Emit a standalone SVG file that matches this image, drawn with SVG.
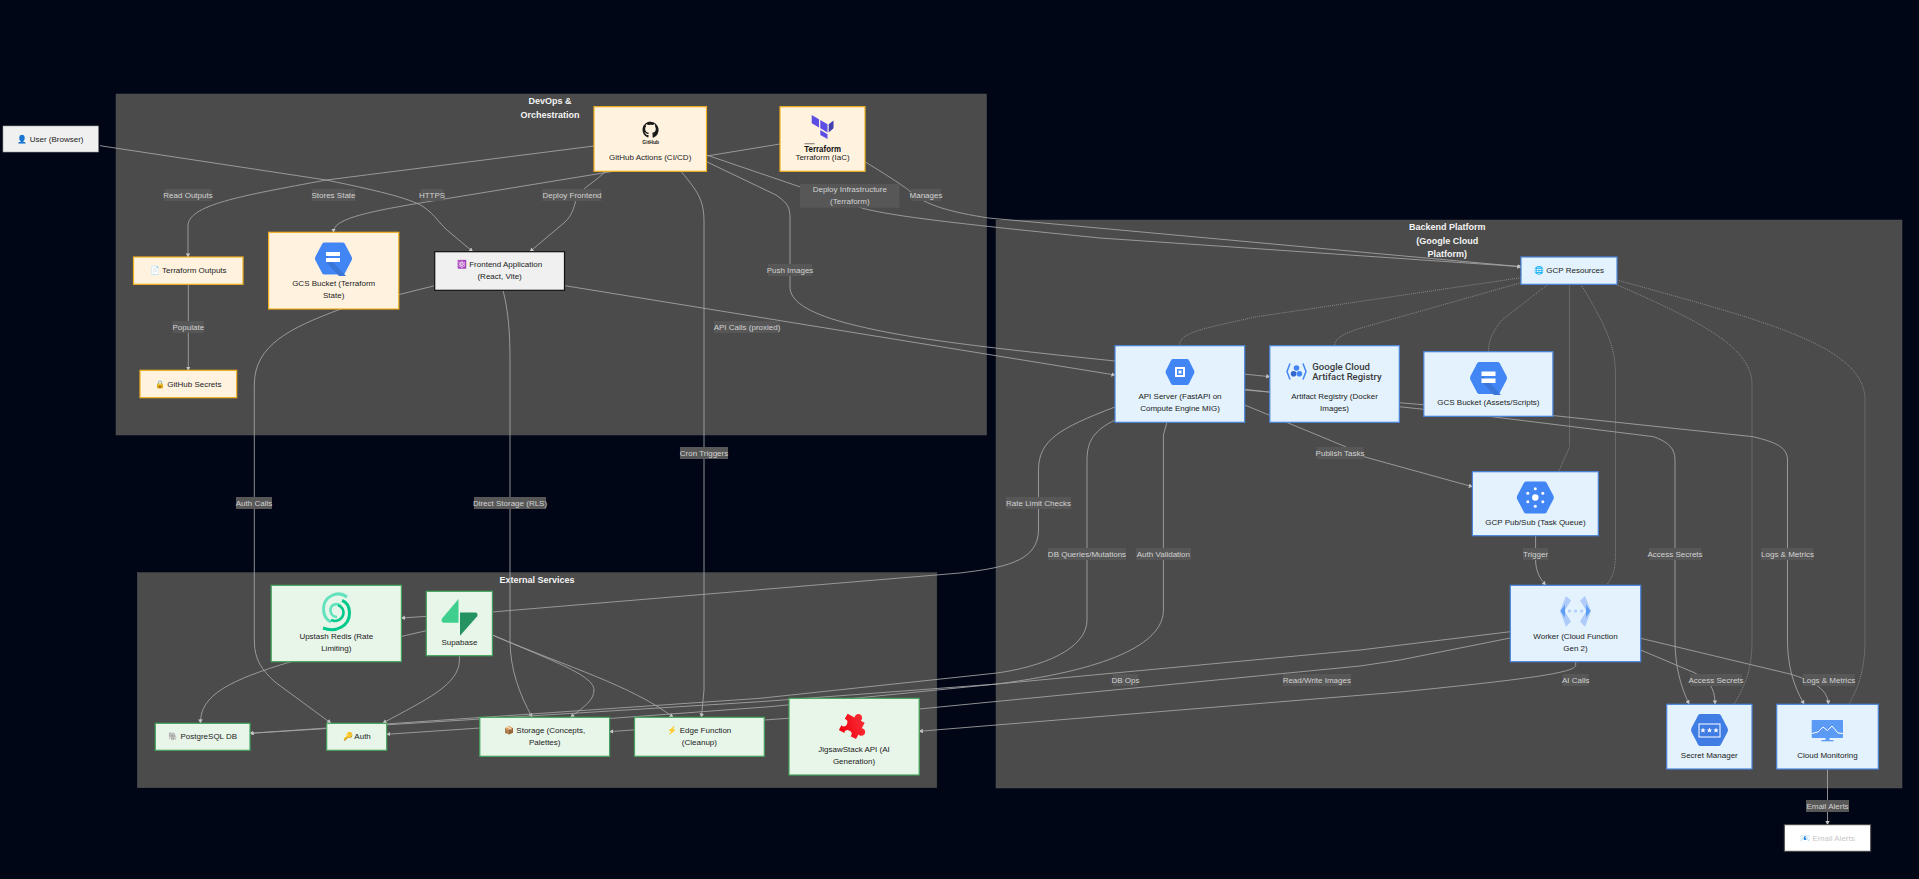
<svg xmlns="http://www.w3.org/2000/svg" width="1919" height="879" viewBox="0 0 1919 879">
<style>
text{font-family:"Liberation Sans",Arial,sans-serif;font-size:8px;text-anchor:middle;fill:#222}
.t{font-size:9px;font-weight:bold;fill:#f4f4f4}
.l{fill:#d2d2d2}
.lb{fill:#575757}
.c{fill:#4a4b4a;stroke:#505250;stroke-width:.5}
.y{fill:#fff3e0;stroke:#f2b01e;stroke-width:1.2}
.b{fill:#e3f2fd;stroke:#4a84dc;stroke-width:1.2}
.g{fill:#e8f5e9;stroke:#43a35c;stroke-width:1.2}
.e path{fill:none;stroke:#a6a6a6;stroke-width:.85}
.e path.a{marker-end:url(#ah)}
.e path.d{stroke-dasharray:1 1;stroke:#9c9c9c;stroke-width:.75}
</style>
<defs>
<marker id="ah" markerUnits="userSpaceOnUse" markerWidth="5" markerHeight="5" refX="3.600" refY="2.250" orient="auto"><path d="M0,0L4,2.250L0,4.500z" fill="#c4c4c4"/></marker>
<path id="hex" d="M-9,-16H9Q10.500,-16 11.300,-14.700L18,-2Q19,0 18,2L11.300,14.700Q10.500,16 9,16H-9Q-10.500,16 -11.300,14.700L-18,2Q-19,0 -18,-2L-11.300,-14.700Q-10.500,-16 -9,-16Z"/>
<linearGradient id="jig" x1="0" y1="1" x2="1" y2="0"><stop offset="0" stop-color="#f0000f"/><stop offset="1" stop-color="#fb3a3f"/></linearGradient>
</defs>
<rect width="1919" height="879" fill="#010616"/>
<g id="clusters">
<rect class="c" x="116" y="94" width="870.500" height="341"/>
<rect class="c" x="996" y="220" width="906" height="568"/>
<rect class="c" x="137.300" y="572.700" width="799.500" height="215"/>
<text class="t" x="550" y="103.800">DevOps &amp;</text><text class="t" x="550" y="117.800">Orchestration</text>
<text class="t" x="1447.300" y="229.800">Backend Platform</text><text class="t" x="1447.300" y="243.800">(Google Cloud</text><text class="t" x="1447.300" y="257.300">Platform)</text>
<text class="t" x="537" y="582.800">External Services</text>
</g>
<g id="connectors" class="e">
<path class="a" d="M100,145.700L326,180C385,192 415,200 425,208C436,216 438,222 447,230L472.600,251.500"/>
<path class="a" d="M594,146L326.500,180C240,196 188,205 188,226V257"/>
<path class="a" d="M780,144L420,203C360,213 333.500,220 333.500,232V232.300"/>
<path class="a" d="M605,172C590,186 578,190 575.500,201.700C573,212 570,217 565,222L530,251.500"/>
<path class="a" d="M188.300,284.300V370.300"/>
<path class="a" d="M706.500,155L862,208C890,216 960,224 1100,238L1521,266.700"/>
<path class="a" d="M865.300,162C890,177 905,187 911,192C925,205 950,212 988.600,218L1521,266.700"/>
<path class="a" d="M706.500,161.700L776,195C788,203 790,208 790,218V287C790,300 805,312 846,323C900,337 960,345 1115,361L1269.800,376.700"/>
<path class="a" d="M565,285.700L1115,375"/>
<path class="a" d="M434.700,285.700L340.800,309C290,328 254.300,345 254.300,385V640C254.300,660 262,670 275,682L330.800,723"/>
<path class="a" d="M503,290.300C508,310 510,330 510,360V640C510,670 520,695 532,717"/>
<path class="a" d="M681.600,172C698,192 704,200 704,222V690L701.400,717"/>
<path class="a" d="M1115,407C1060,428 1038.500,440 1038.500,470V530C1038.500,563 1000,568 960,573L492,612L401.400,618"/>
<path class="a" d="M426.300,630.700L291,661.700C230,680 200,695 200.500,723"/>
<path class="a" d="M459.400,655.700V660C459.400,685 425,700 383,723"/>
<path class="a" d="M492.400,635C550,660 594,675 594,690C594,700 585,706 570.800,717"/>
<path class="a" d="M492.400,635C570,668 630,685 673,717"/>
<path class="a" d="M1115,420C1095,430 1087,440 1087,460V620C1087,650 1040,667 997,673L760,698.300L250,733.300"/>
<path class="a" d="M1166.900,422.300L1163.400,435V610C1163.400,640 1120,668 997,684L770,706.700L480,728L386.700,734.300"/>
<path class="a" d="M1510.300,631.700L1360,650L997,684L760,701.700L250,733.300"/>
<path class="a" d="M1510.300,638L1400,660L1360,666L919,709L764,720L609.600,731.700"/>
<path class="a" d="M1575.700,661.700V665C1575.700,672 1540,678 1400,692L919.200,731.300"/>
<path class="a" d="M1244.700,405L1345.500,446.700L1363.800,456.700L1472.400,486.700"/>
<path class="a" d="M1244.700,389.300L1399.300,406.700L1491.700,416.700L1653.700,436.700C1668,442 1675,448 1675,460V640C1675,665 1680,685 1689,704"/>
<path class="a" d="M1244.700,390L1399.300,402.700L1554.400,415.700L1753,436.700C1775,442 1787.500,447 1787.500,460V640C1787.500,665 1793,685 1804,704"/>
<path class="a" d="M1640.700,650L1695,673C1708,680 1715,687 1715,704"/>
<path class="a" d="M1640.700,638.300L1790,674C1810,680 1828,688 1828.300,704"/>
<path class="a" d="M1827.500,769V824.700"/>
<path class="a" d="M1535.600,535.700V560C1535.700,568 1538,577 1545.700,585"/>
<path class="d" d="M1521,277.700L1256.700,316.700C1200,329 1179.400,333 1179.400,345.700"/>
<path class="d" d="M1521,282.700L1361,328C1345,333 1334.500,338 1334.500,345.700"/>
<path class="d" d="M1548,284.300L1502,320C1492,333 1488.600,340 1488.600,351.700"/>
<path class="d" d="M1569.600,284.300V446.700L1558.600,471.700"/>
<path class="d" d="M1581,284.300C1605,325 1615.500,345 1615.500,375V555C1615.500,570 1612,578 1606.700,585"/>
<path class="d" d="M1616,284.500C1710,325 1752,350 1752,385V640C1752,670 1745,685 1734.300,704"/>
<path class="d" d="M1617,280C1760,320 1865,345 1865,400V640C1865,670 1858,688 1849,704"/>
</g>
<g id="edge-labels">
<g><rect class="lb" x="164.500" y="189" width="47" height="12"/><text class="l" x="188" y="197.800">Read Outputs</text></g>
<g><rect class="lb" x="312" y="189" width="43" height="12"/><text class="l" x="333.500" y="197.800">Stores State</text></g>
<g><rect class="lb" x="420.500" y="189" width="23" height="12"/><text class="l" x="432" y="197.800">HTTPS</text></g>
<g><rect class="lb" x="542.500" y="189" width="59" height="12"/><text class="l" x="572" y="197.800">Deploy Frontend</text></g>
<g><rect class="lb" x="172.800" y="321" width="31" height="12"/><text class="l" x="188.300" y="329.800">Populate</text></g>
<g><rect class="lb" x="800" y="184" width="99.600" height="23.700"/><text class="l" x="849.800" y="192.100">Deploy Infrastructure</text><text class="l" x="849.800" y="204.100">(Terraform)</text></g>
<g><rect class="lb" x="911" y="189" width="30" height="12"/><text class="l" x="926" y="197.800">Manages</text></g>
<g><rect class="lb" x="768" y="264" width="44" height="12"/><text class="l" x="790" y="272.800">Push Images</text></g>
<g><rect class="lb" x="714" y="321" width="66" height="12"/><text class="l" x="747" y="329.800">API Calls (proxied)</text></g>
<g><rect class="lb" x="1316.500" y="447" width="47" height="12"/><text class="l" x="1340" y="455.800">Publish Tasks</text></g>
<g><rect class="lb" x="1006" y="497" width="65" height="12"/><text class="l" x="1038.500" y="505.800">Rate Limit Checks</text></g>
<g><rect class="lb" x="236" y="497" width="36" height="12"/><text class="l" x="254" y="505.800">Auth Calls</text></g>
<g><rect class="lb" x="474" y="497" width="72" height="12"/><text class="l" x="510" y="505.800">Direct Storage (RLS)</text></g>
<g><rect class="lb" x="680" y="447" width="48" height="12"/><text class="l" x="704" y="455.800">Cron Triggers</text></g>
<g><rect class="lb" x="1048" y="548" width="78" height="12"/><text class="l" x="1087" y="556.800">DB Queries/Mutations</text></g>
<g><rect class="lb" x="1136" y="548" width="55" height="12"/><text class="l" x="1163.400" y="556.800">Auth Validation</text></g>
<g><rect class="lb" x="1523" y="548" width="25" height="12"/><text class="l" x="1535.600" y="556.800">Trigger</text></g>
<g><rect class="lb" x="1649" y="548" width="52" height="12"/><text class="l" x="1675" y="556.800">Access Secrets</text></g>
<g><rect class="lb" x="1761.500" y="548" width="52" height="12"/><text class="l" x="1787.500" y="556.800">Logs &amp; Metrics</text></g>
<g><rect class="lb" x="1113" y="674" width="25" height="12"/><text class="l" x="1125.500" y="682.800">DB Ops</text></g>
<g><rect class="lb" x="1283" y="674" width="68" height="12"/><text class="l" x="1316.800" y="682.800">Read/Write Images</text></g>
<g><rect class="lb" x="1562.700" y="674" width="26" height="12"/><text class="l" x="1575.700" y="682.800">AI Calls</text></g>
<g><rect class="lb" x="1690" y="674" width="52" height="12"/><text class="l" x="1716" y="682.800">Access Secrets</text></g>
<g><rect class="lb" x="1802.700" y="674" width="52" height="12"/><text class="l" x="1828.700" y="682.800">Logs &amp; Metrics</text></g>
<g><rect class="lb" x="1806" y="800" width="43" height="12"/><text class="l" x="1827.500" y="808.800">Email Alerts</text></g>
</g>
<g id="user"><rect x="3" y="126" width="95.400" height="26" fill="#f0f0f0" stroke="#999" stroke-width=".6"/><text x="50.500" y="141.800">👤 User (Browser)</text></g>
<g id="github-actions"><rect class="y" x="594" y="106.700" width="112.500" height="64.600"/>
<path d="M650.700,121.500a8.300,8.300 0 0 0 -2.800,16.100c.4,0 .6,-.2 .6,-.5v-2.100c-2.300,.5 -2.800,-1.100 -2.800,-1.100c-.4,-1 -.9,-1.200 -.9,-1.200c-.8,-.5 0,-.5 0,-.5c.8,0 1.300,.9 1.300,.9c.7,1.300 1.900,.9 2.400,.7c0,-.5 .3,-.9 .5,-1.100c-1.800,-.2 -3.800,-.9 -3.800,-4c0,-.9 .3,-1.600 .8,-2.200c-.1,-.2 -.4,-1 .1,-2.200c0,0 .7,-.2 2.300,.8a8,8 0 0 1 4.200,0c1.600,-1.100 2.300,-.8 2.300,-.8c.4,1.100 .2,2 .1,2.200c.5,.6 .8,1.300 .8,2.200c0,3.100 -1.900,3.800 -3.800,4c.3,.3 .6,.8 .6,1.500v3.100c0,.3 .2,.6 .6,.5a8.300,8.300 0 0 0 -2.800,-16.100z" fill="#1b1b1b"/>
<text x="650.700" y="143.500" style="font-size:5px;font-weight:bold;fill:#222">GitHub</text>
<text x="650.200" y="159.800">GitHub Actions (CI/CD)</text></g>
<g id="terraform"><rect class="y" x="780" y="106.700" width="85" height="64.600"/>
<path d="M811.700,115L819,119.200V127.500L811.700,123.300ZM820.300,120L827.500,124.200V132.500L820.300,128.300ZM820.300,130L827.500,134.200V139L820.300,135Z" fill="#5c4ee5"/><path d="M828.700,124.200L833.500,120.500V128.300L828.700,132.500Z" fill="#4040b2"/>
<rect x="804.500" y="143.400" width="10" height=".8" fill="#555"/>
<text x="822.700" y="151.500" style="font-size:9.800px;font-weight:bold;fill:#111" textLength="36.700" lengthAdjust="spacingAndGlyphs">Terraform</text>
<text x="822.500" y="159.800">Terraform (IaC)</text></g>
<g id="terraform-outputs"><rect class="y" x="133.500" y="257" width="109.500" height="27.300"/><text x="188.300" y="272.800">📄 Terraform Outputs</text></g>
<g id="gcs-state"><rect class="y" x="268.600" y="232.300" width="130.200" height="76.700"/>
<use href="#hex" x="333.500" y="258.500" fill="#4285f4"/><path d="M326,255L346,276H339L326,262Z" fill="#3a75d8"/><rect x="326" y="252" width="14" height="4" fill="#fff"/><rect x="326" y="258" width="14" height="4" fill="#fff"/>
<text x="333.700" y="286.100">GCS Bucket (Terraform</text><text x="333.700" y="298.100">State)</text></g>
<g id="frontend"><rect x="434.700" y="251.700" width="129.800" height="38.600" fill="#f0f0f0" stroke="#111" stroke-width="1.200"/><text x="499.600" y="267.100">⚛️ Frontend Application</text><text x="499.600" y="279.100">(React, Vite)</text></g>
<g id="github-secrets"><rect class="y" x="140" y="370.300" width="96.700" height="27.400"/><text x="188.300" y="386.800">🔒 GitHub Secrets</text></g>
<g id="gcp-resources"><rect class="b" x="1521" y="257" width="96" height="27.300"/><text x="1569" y="272.800">🌐 GCP Resources</text></g>
<g id="api-server"><rect class="b" x="1115" y="345.700" width="129.700" height="76.600"/>
<use href="#hex" transform="translate(1180,372) scale(.78,.81)" fill="#4285f4"/><rect x="1175" y="367" width="10" height="10" fill="#fff"/><rect x="1177" y="369" width="6" height="6" fill="#4285f4"/><rect x="1178.500" y="370.500" width="3" height="3" fill="#fff"/>
<text x="1180" y="399.100">API Server (FastAPI on</text><text x="1180" y="411.100">Compute Engine MIG)</text></g>
<g id="artifact-registry"><rect class="b" x="1269.800" y="345.700" width="129.500" height="76.600"/>
<path d="M1290,363.500L1287,371.500L1290,379.500M1303,363.500L1306,371.500L1303,379.500" fill="none" stroke="#4285f4" stroke-width="1.500"/><circle cx="1296.500" cy="368" r="2.800" fill="#4285f4"/><circle cx="1293.600" cy="373.800" r="2.800" fill="#3367c9"/><circle cx="1299.400" cy="373.800" r="2.800" fill="#4285f4"/>
<text x="1312.300" y="370.200" style="font-size:9.200px;text-anchor:start;fill:#3a3a3a;font-family:Roboto,sans-serif;font-weight:500" textLength="57.700" lengthAdjust="spacingAndGlyphs">Google Cloud</text><text x="1312.300" y="380" style="font-size:9.200px;text-anchor:start;fill:#3a3a3a;font-family:Roboto,sans-serif;font-weight:500" textLength="69.300" lengthAdjust="spacingAndGlyphs">Artifact Registry</text>
<text x="1334.500" y="399.100">Artifact Registry (Docker</text><text x="1334.500" y="411.100">Images)</text></g>
<g id="gcs-assets"><rect class="b" x="1423.800" y="351.700" width="129.100" height="64.600"/>
<use href="#hex" x="1488.500" y="378" fill="#4285f4"/><path d="M1482,375L1501,395H1494L1482,382Z" fill="#3a75d8"/><rect x="1481.500" y="371.500" width="14" height="4.500" fill="#fff"/><rect x="1481.500" y="378.500" width="14" height="4.500" fill="#fff"/>
<text x="1488.400" y="405.100">GCS Bucket (Assets/Scripts)</text></g>
<g id="pubsub"><rect class="b" x="1472.400" y="471.700" width="125.900" height="64"/>
<use href="#hex" x="1535.300" y="497.500" fill="#4285f4"/><g fill="#fff"><circle cx="1535.300" cy="497.500" r="3.200"/><circle cx="1535.300" cy="488.800" r="1.500"/><circle cx="1535.300" cy="506.200" r="1.500"/><circle cx="1527.800" cy="493.200" r="1.500"/><circle cx="1542.800" cy="493.200" r="1.500"/><circle cx="1527.800" cy="501.800" r="1.500"/><circle cx="1542.800" cy="501.800" r="1.500"/></g>
<text x="1535.400" y="525.100">GCP Pub/Sub (Task Queue)</text></g>
<g id="worker"><rect class="b" x="1510.300" y="585.300" width="130.400" height="76.400"/>
<path d="M1566,596L1571,600.500L1564.500,611L1571,621.500L1566,626.700L1560,611ZM1585,596L1580,600.500L1586.500,611L1580,621.500L1585,626.700L1591,611Z" fill="#aecbfa"/><path d="M1565,604.500L1560.500,611L1565,617.500ZM1586,604.500L1590.500,611L1586,617.500Z" fill="#5b9cf5"/><circle cx="1569.500" cy="611" r="1.500" fill="#aecbfa"/><circle cx="1575.600" cy="611" r="1.500" fill="#aecbfa"/><circle cx="1581.700" cy="611" r="1.500" fill="#aecbfa"/>
<text x="1575.500" y="639.100">Worker (Cloud Function</text><text x="1575.500" y="651.100">Gen 2)</text></g>
<g id="secret-manager"><rect class="b" x="1666.700" y="704.300" width="85.300" height="64.700"/>
<use href="#hex" x="1709.500" y="730" fill="#3f7ce4"/><rect x="1699" y="724" width="21" height="13" fill="none" stroke="#fff" stroke-width="1"/><path d="M1703,727.500l.8,1.900h2l-1.600,1.200 .6,2 -1.800,-1.200 -1.800,1.200 .6,-2 -1.600,-1.200h2zM1709.500,727.500l.8,1.900h2l-1.600,1.200 .6,2 -1.800,-1.200 -1.800,1.200 .6,-2 -1.600,-1.200h2zM1716,727.500l.8,1.900h2l-1.600,1.200 .6,2 -1.800,-1.200 -1.800,1.200 .6,-2 -1.600,-1.200h2z" fill="#fff"/>
<text x="1709.300" y="757.800">Secret Manager</text></g>
<g id="cloud-monitoring"><rect class="b" x="1776.700" y="704.300" width="101.600" height="64.700"/>
<rect x="1811.700" y="720" width="31.300" height="18" rx=".8" fill="#5c9bf5"/><path d="M1811.700,733.500L1818,732L1823,727L1827.500,730.500L1832,726L1838,733L1843,733.500" fill="none" stroke="#fff" stroke-width="1"/><rect x="1825.500" y="738" width="4" height="2" fill="#5c9bf5"/><rect x="1821.500" y="740" width="12" height="1.300" fill="#5c9bf5"/>
<text x="1827.500" y="757.800">Cloud Monitoring</text></g>
<g id="email-alerts"><rect x="1784.300" y="824.700" width="86.400" height="26.600" fill="#fff" stroke="#444" stroke-width="1"/><text x="1827.500" y="840.800" style="fill:#c8c8c8">📧 Email Alerts</text></g>
<g id="upstash"><rect class="g" x="271.200" y="585.300" width="130.200" height="76.400"/>
<path d="M347,597C338,590 323.500,596 323.500,609C323.500,616 327,620 331,622" fill="none" stroke="#62e3bd" stroke-width="3"/><path d="M323,628C336,633 349.500,626 349.500,613C349.500,606 346,602 342,600.500" fill="none" stroke="#00c98d" stroke-width="3"/><path d="M341,606C336,602 330,605 330.500,611C331,615 334,617 337,617" fill="none" stroke="#62e3bd" stroke-width="2.600"/><path d="M331,620C338,623 343.500,618 343.500,612C343.500,609 341,606 338,605.500" fill="none" stroke="#00c98d" stroke-width="2.600"/>
<text x="336.300" y="639.100">Upstash Redis (Rate</text><text x="336.300" y="651.100">Limiting)</text></g>
<g id="supabase"><rect class="g" x="426.300" y="591.300" width="66.100" height="64.400"/>
<path d="M458.500,599V622.700H443Q440.500,621 442,618.500Z" fill="#3ecf8e"/><path d="M460,635.700V612.500H476Q478.500,614 477,616.500Z" fill="#249361"/>
<text x="459.400" y="645.100">Supabase</text></g>
<g id="postgres"><rect class="g" x="155.300" y="723.300" width="94.700" height="27"/><text x="202.700" y="738.800">🐘 PostgreSQL DB</text></g>
<g id="auth"><rect class="g" x="326.700" y="723.300" width="60" height="27"/><text x="356.700" y="738.800">🔑 Auth</text></g>
<g id="storage"><rect class="g" x="479.800" y="717.300" width="129.800" height="39"/><text x="544.700" y="733.100">📦 Storage (Concepts,</text><text x="544.700" y="745.100">Palettes)</text></g>
<g id="edge-function"><rect class="g" x="634.500" y="717.300" width="129.800" height="39"/><text x="699.400" y="733.100">⚡ Edge Function</text><text x="699.400" y="745.100">(Cleanup)</text></g>
<g id="jigsawstack"><rect class="g" x="789" y="698.300" width="130.200" height="76.700"/>
<path transform="translate(852,726) rotate(28) scale(.88)" d="M-11,-10H-2C-3,-13 -1,-16 2,-16C5,-16 7,-13 6,-10H11V-3C14,-4 17,-2 17,1C17,4 14,6 11,5V11H4C5,8 3,6 0,6C-3,6 -5,8 -4,11H-11V5C-8,6 -6,4 -6,1C-6,-2 -8,-4 -11,-3Z" fill="url(#jig)"/>
<text x="854" y="751.800">JigsawStack API (AI</text><text x="854" y="763.800">Generation)</text></g>
</svg>
